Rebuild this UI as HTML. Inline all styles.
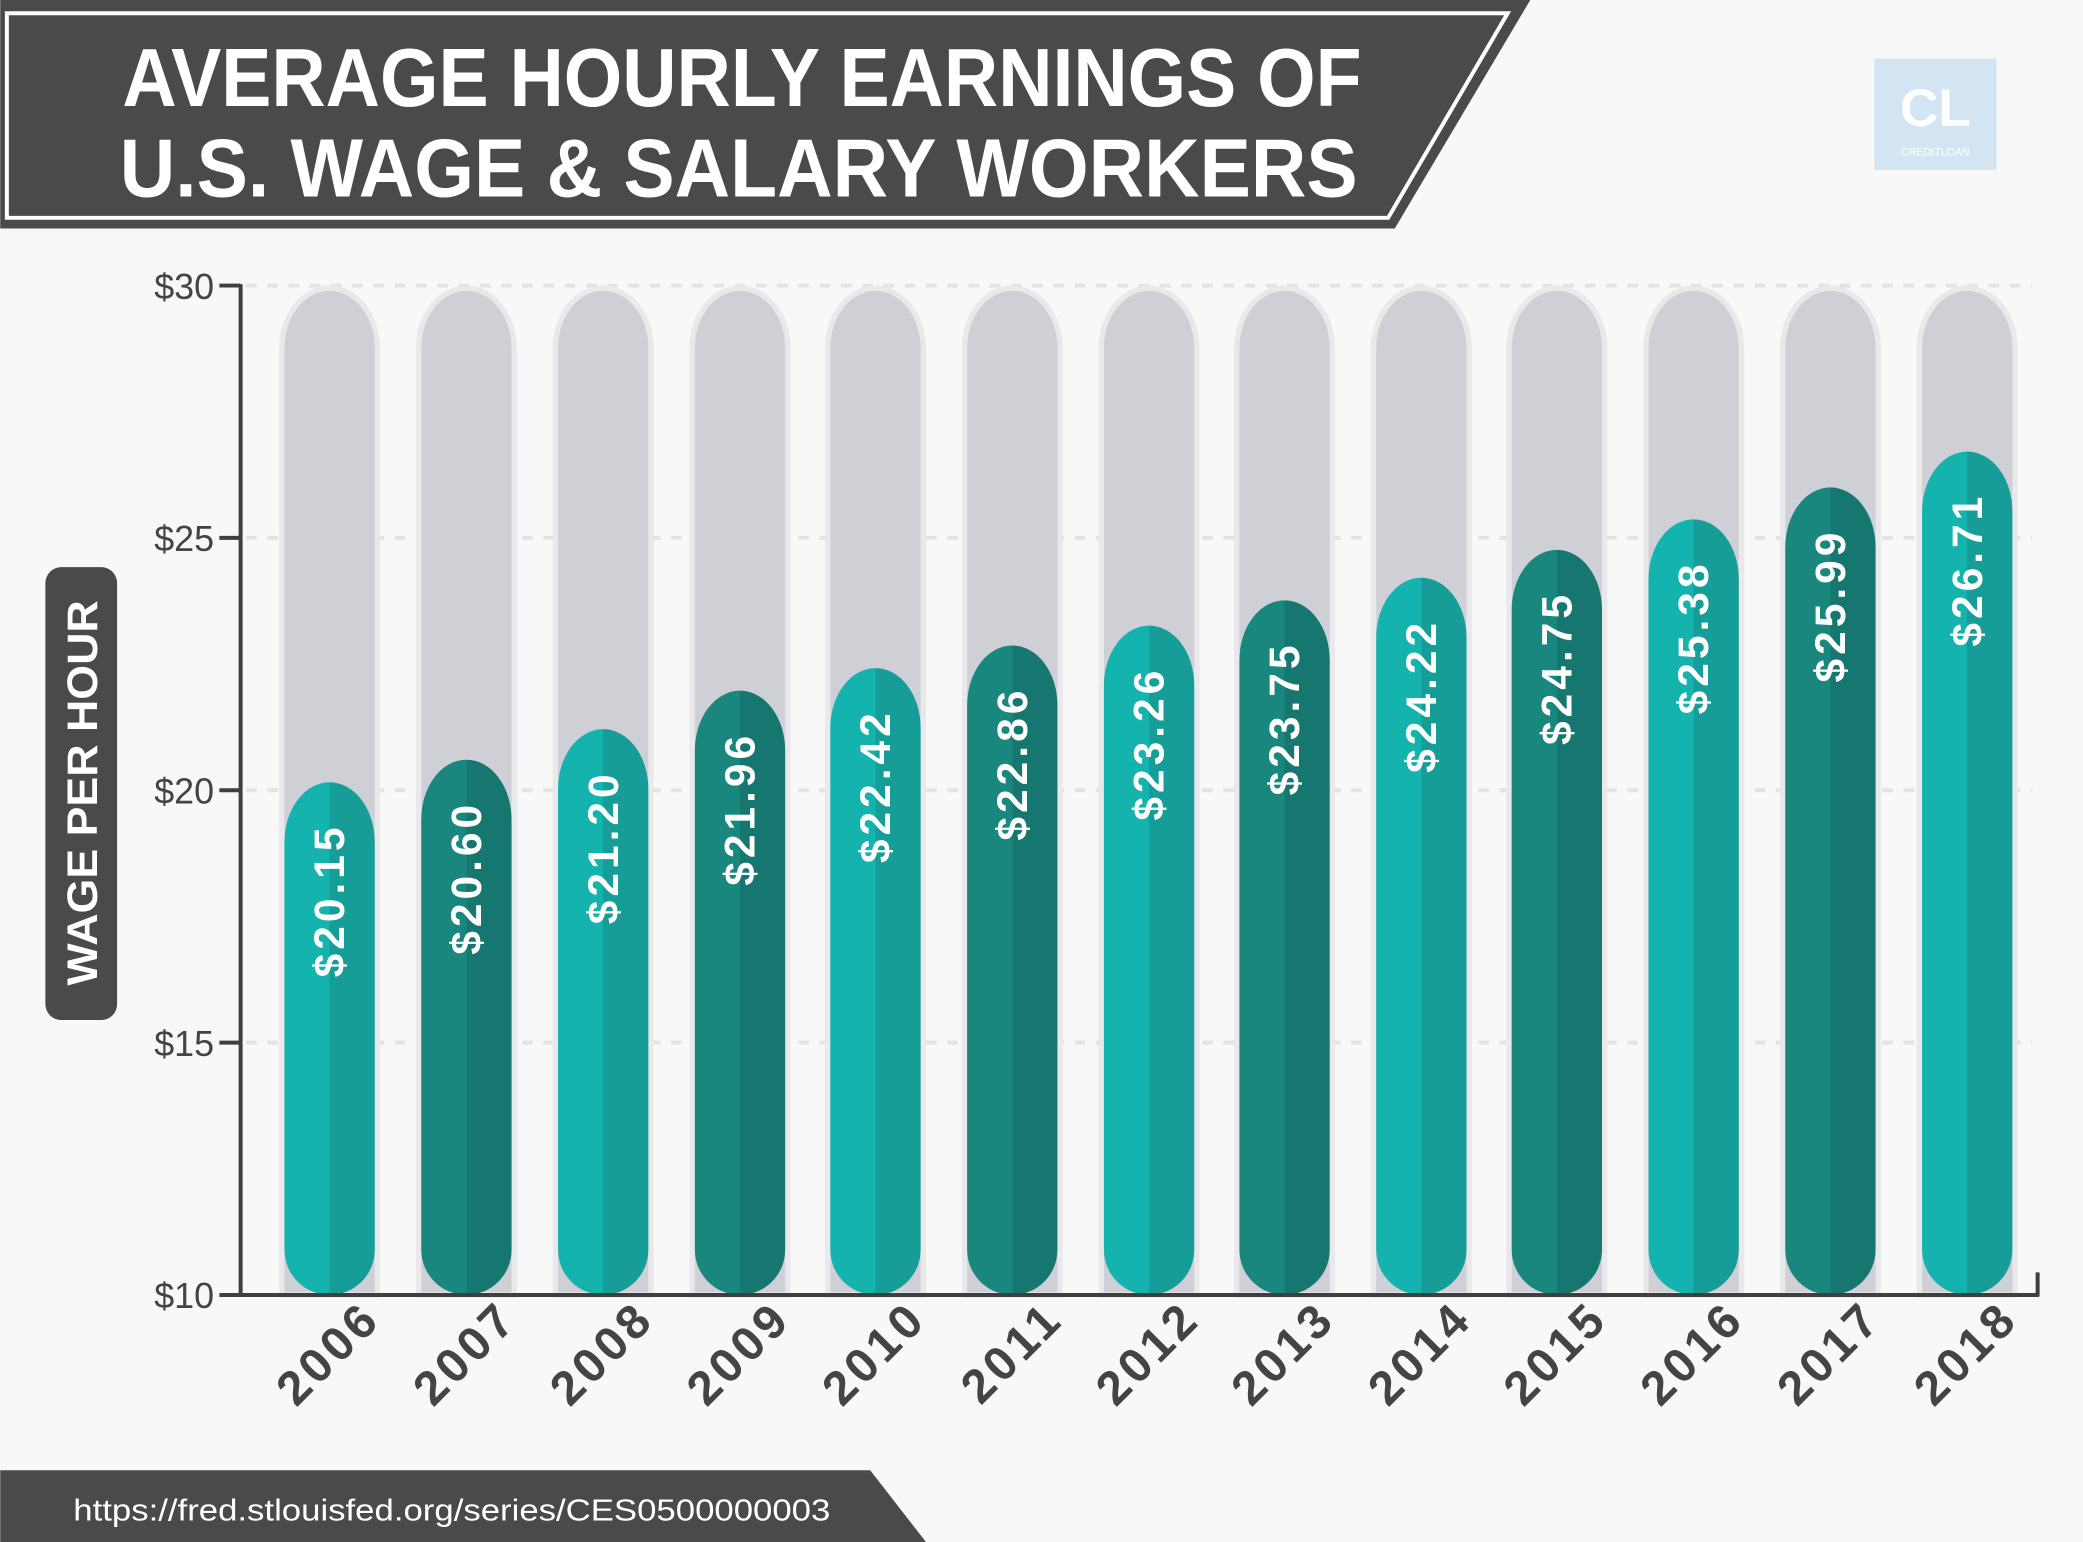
<!DOCTYPE html>
<html><head><meta charset="utf-8"><style>
html,body{margin:0;padding:0;background:#f8f8f8;}
svg{display:block;}
text{font-family:"Liberation Sans",sans-serif;}
</style></head><body>
<svg width="2083" height="1542" viewBox="0 0 1568 1161" xmlns="http://www.w3.org/2000/svg">
<defs>
<linearGradient id="gl" x1="0" x2="1" y1="0" y2="0"><stop offset="0.5" stop-color="#15b3ae"/><stop offset="0.5" stop-color="#169d98"/></linearGradient>
<linearGradient id="gd" x1="0" x2="1" y1="0" y2="0"><stop offset="0.5" stop-color="#1a877f"/><stop offset="0.5" stop-color="#167771"/></linearGradient>
</defs>
<rect width="1568" height="1161" fill="#f8f8f8"/>
<!-- header -->
<polygon points="0,0 1152,0 1050,172 0,172" fill="#4a4a48"/>
<polygon points="5,10 1135,10 1045,164 5,164" fill="none" stroke="#fff" stroke-width="3"/>
<text x="92" y="80" fill="#fff" font-size="62" font-weight="bold" textLength="933" lengthAdjust="spacingAndGlyphs">AVERAGE HOURLY EARNINGS OF</text>
<text x="90" y="148" fill="#fff" font-size="62" font-weight="bold" textLength="932" lengthAdjust="spacingAndGlyphs">U.S. WAGE &amp; SALARY WORKERS</text>
<!-- logo -->
<rect x="1411" y="44" width="92" height="84" fill="#d3e5f3"/>
<text x="1457" y="95" fill="#fff" font-size="40" font-weight="bold" text-anchor="middle">CL</text>
<text x="1457" y="117" fill="#fff" font-size="8" text-anchor="middle">CREDITLOAN</text>
<!-- gridlines -->
<g stroke="#e3e3e3" stroke-width="3" stroke-dasharray="8,8">
<line x1="185" y1="215" x2="1530" y2="215"/><line x1="185" y1="405" x2="1530" y2="405"/>
<line x1="185" y1="595" x2="1530" y2="595"/><line x1="185" y1="785" x2="1530" y2="785"/>
</g>
<!-- background pills -->
<g fill="#cfcfd6" stroke="#e9e9ec" stroke-width="4">
<path d="M212,262 A36,45 0 0 1 284,262 L284,975 L212,975 Z"/>
<path d="M315,262 A36,45 0 0 1 387,262 L387,975 L315,975 Z"/>
<path d="M418,262 A36,45 0 0 1 490,262 L490,975 L418,975 Z"/>
<path d="M521,262 A36,45 0 0 1 593,262 L593,975 L521,975 Z"/>
<path d="M623,262 A36,45 0 0 1 695,262 L695,975 L623,975 Z"/>
<path d="M726,262 A36,45 0 0 1 798,262 L798,975 L726,975 Z"/>
<path d="M829,262 A36,45 0 0 1 901,262 L901,975 L829,975 Z"/>
<path d="M931,262 A36,45 0 0 1 1003,262 L1003,975 L931,975 Z"/>
<path d="M1034,262 A36,45 0 0 1 1106,262 L1106,975 L1034,975 Z"/>
<path d="M1136,262 A36,45 0 0 1 1208,262 L1208,975 L1136,975 Z"/>
<path d="M1239,262 A36,45 0 0 1 1311,262 L1311,975 L1239,975 Z"/>
<path d="M1342,262 A36,45 0 0 1 1414,262 L1414,975 L1342,975 Z"/>
<path d="M1445,262 A36,45 0 0 1 1517,262 L1517,975 L1445,975 Z"/>
</g>
<!-- bars -->
<path fill="url(#gl)" d="M214,634 A34,45 0 0 1 282,634 L282,941 A34,34 0 0 1 214,941 Z"/>
<path fill="url(#gd)" d="M317,617 A34,45 0 0 1 385,617 L385,941 A34,34 0 0 1 317,941 Z"/>
<path fill="url(#gl)" d="M420,594 A34,45 0 0 1 488,594 L488,941 A34,34 0 0 1 420,941 Z"/>
<path fill="url(#gd)" d="M523,565 A34,45 0 0 1 591,565 L591,941 A34,34 0 0 1 523,941 Z"/>
<path fill="url(#gl)" d="M625,548 A34,45 0 0 1 693,548 L693,941 A34,34 0 0 1 625,941 Z"/>
<path fill="url(#gd)" d="M728,531 A34,45 0 0 1 796,531 L796,941 A34,34 0 0 1 728,941 Z"/>
<path fill="url(#gl)" d="M831,516 A34,45 0 0 1 899,516 L899,941 A34,34 0 0 1 831,941 Z"/>
<path fill="url(#gd)" d="M933,497 A34,45 0 0 1 1001,497 L1001,941 A34,34 0 0 1 933,941 Z"/>
<path fill="url(#gl)" d="M1036,480 A34,45 0 0 1 1104,480 L1104,941 A34,34 0 0 1 1036,941 Z"/>
<path fill="url(#gd)" d="M1138,459 A34,45 0 0 1 1206,459 L1206,941 A34,34 0 0 1 1138,941 Z"/>
<path fill="url(#gl)" d="M1241,436 A34,45 0 0 1 1309,436 L1309,941 A34,34 0 0 1 1241,941 Z"/>
<path fill="url(#gd)" d="M1344,412 A34,45 0 0 1 1412,412 L1412,941 A34,34 0 0 1 1344,941 Z"/>
<path fill="url(#gl)" d="M1447,385 A34,45 0 0 1 1515,385 L1515,941 A34,34 0 0 1 1447,941 Z"/>
<!-- value labels -->
<g fill="#fff" font-size="32" font-weight="bold" letter-spacing="3" text-anchor="end">
<text transform="translate(259,620) rotate(-90)">$20.15</text>
<text transform="translate(362,603) rotate(-90)">$20.60</text>
<text transform="translate(465,580) rotate(-90)">$21.20</text>
<text transform="translate(568,551) rotate(-90)">$21.96</text>
<text transform="translate(670,534) rotate(-90)">$22.42</text>
<text transform="translate(773,517) rotate(-90)">$22.86</text>
<text transform="translate(876,502) rotate(-90)">$23.26</text>
<text transform="translate(978,483) rotate(-90)">$23.75</text>
<text transform="translate(1081,466) rotate(-90)">$24.22</text>
<text transform="translate(1183,445) rotate(-90)">$24.75</text>
<text transform="translate(1286,422) rotate(-90)">$25.38</text>
<text transform="translate(1389,398) rotate(-90)">$25.99</text>
<text transform="translate(1492,371) rotate(-90)">$26.71</text>
</g>
<!-- axes -->
<g stroke="#3f3f3f" stroke-width="3" fill="none">
<line x1="181" y1="214" x2="181" y2="976"/>
<line x1="165" y1="975" x2="1535" y2="975"/>
<line x1="1534" y1="958" x2="1534" y2="976"/>
<line x1="165" y1="215" x2="181" y2="215"/><line x1="165" y1="405" x2="181" y2="405"/>
<line x1="165" y1="595" x2="181" y2="595"/><line x1="165" y1="785" x2="181" y2="785"/>
</g>
<g fill="#444" font-size="27" text-anchor="end">
<text x="161" y="225">$30</text><text x="161" y="415">$25</text><text x="161" y="605">$20</text>
<text x="161" y="795">$15</text><text x="161" y="985">$10</text>
</g>
<!-- years -->
<g fill="#444" font-size="36" font-weight="bold" letter-spacing="3" text-anchor="end">
<text transform="translate(288,995) rotate(-45)">2006</text>
<text transform="translate(391,995) rotate(-45)">2007</text>
<text transform="translate(494,995) rotate(-45)">2008</text>
<text transform="translate(597,995) rotate(-45)">2009</text>
<text transform="translate(699,995) rotate(-45)">2010</text>
<text transform="translate(802,995) rotate(-45)">2011</text>
<text transform="translate(905,995) rotate(-45)">2012</text>
<text transform="translate(1007,995) rotate(-45)">2013</text>
<text transform="translate(1110,995) rotate(-45)">2014</text>
<text transform="translate(1212,995) rotate(-45)">2015</text>
<text transform="translate(1315,995) rotate(-45)">2016</text>
<text transform="translate(1418,995) rotate(-45)">2017</text>
<text transform="translate(1521,995) rotate(-45)">2018</text>
</g>
<!-- y title -->
<rect x="34" y="427" width="54" height="341" rx="12" fill="#4a4a48"/>
<text transform="translate(73,597) rotate(-90)" fill="#fff" font-size="32" font-weight="bold" text-anchor="middle" textLength="290" lengthAdjust="spacingAndGlyphs">WAGE PER HOUR</text>
<!-- footer -->
<polygon points="0,1107 655,1107 697,1161 0,1161" fill="#4a4a48"/>
<text x="55" y="1145" fill="#fff" font-size="23" textLength="570" lengthAdjust="spacingAndGlyphs">https://fred.stlouisfed.org/series/CES0500000003</text>
</svg>
</body></html>
